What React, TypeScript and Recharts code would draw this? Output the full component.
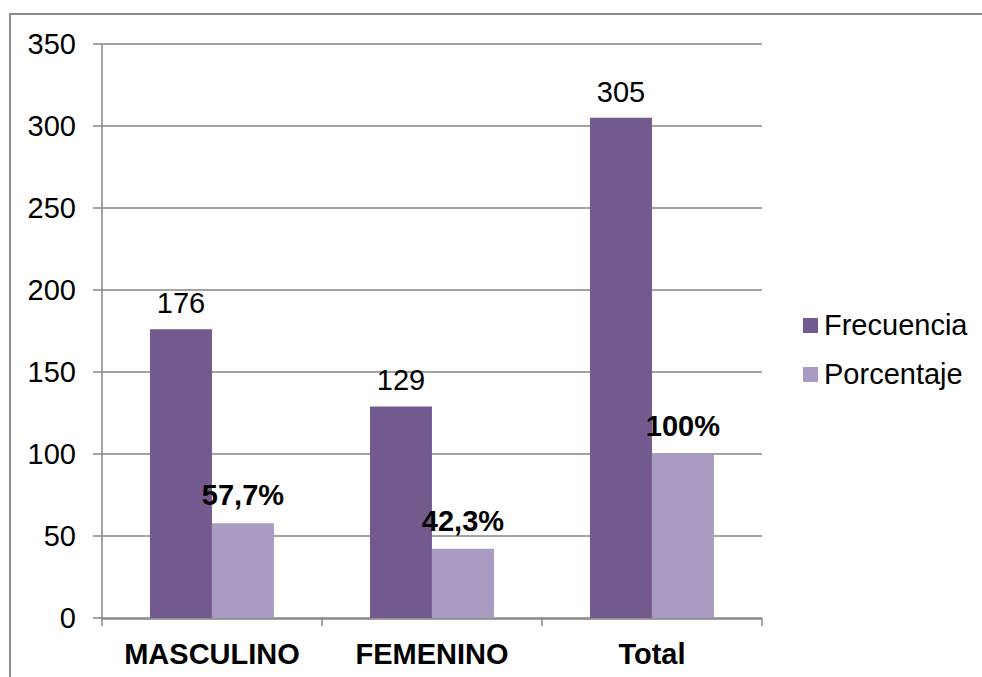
import { Bar, BarChart, CartesianGrid, LabelList, XAxis, YAxis } from 'recharts'

const categories = ['MASCULINO', 'FEMENINO', 'Total']
const frecuencia = [176, 129, 305]
const porcentaje = [57.7, 42.3, 100]
const porcentajeLabels = ['57,7%', '42,3%', '100%']
const yTicks = [0, 50, 100, 150, 200, 250, 300, 350]
const boundaryTicks = [0, 1, 2, 3]

const data = categories.map((name, i) => ({
  name,
  idx: i + 0.5,
  frecuencia: frecuencia[i],
  porcentaje: porcentaje[i],
  porcentajeLabel: porcentajeLabels[i],
}))

const FONT = '"Liberation Sans", Arial, sans-serif'
const FS = 29
const DARK = '#725A8F'
const LIGHT = '#AA9BC2'
const GRID = '#868686'

const legendItems = [
  { label: 'Frecuencia', color: DARK },
  { label: 'Porcentaje', color: LIGHT },
]

function LegendBox() {
  return (
    <div style={{ position: 'absolute', left: 803, top: 301, fontFamily: FONT, fontSize: FS, color: '#000' }}>
      {legendItems.map((it) => (
        <div key={it.label} style={{ display: 'flex', alignItems: 'center', height: 49 }}>
          <span style={{ width: 15, height: 15, background: it.color, marginRight: 6 }} />
          <span>{it.label}</span>
        </div>
      ))}
    </div>
  )
}

export default function App() {
  return (
    <div style={{ position: 'fixed', left: 0, top: 0, width: 982, height: 677, overflow: 'hidden', background: '#fff' }}>
      <div
        style={{
          position: 'absolute',
          left: 9,
          top: 13,
          width: 1100,
          height: 800,
          border: '2px solid #8c8c8c',
        }}
      />
      <div style={{ position: 'absolute', left: 0, top: 0 }}>
        <BarChart
          width={982}
          height={677}
          data={data}
          margin={{ top: 44, right: 220, bottom: 0, left: 0 }}
          barCategoryGap="21.8%"
          barGap={0}
          style={{ fontFamily: FONT }}
        >
          <CartesianGrid vertical={false} stroke={GRID} strokeWidth={1.5} xAxisId="b" />
          <XAxis
            xAxisId="a"
            type="number"
            dataKey="idx"
            domain={[0, 3]}
            ticks={boundaryTicks}
            tickFormatter={() => ''}
            axisLine={false}
            tickLine={{ stroke: GRID, strokeWidth: 1.5 }}
            tickSize={8}
            height={1}
          />
          <XAxis
            xAxisId="b"
            dataKey="name"
            tickLine={false}
            axisLine={{ stroke: GRID, strokeWidth: 1.5 }}
            tick={{ fill: '#000', fontSize: FS, fontWeight: 'bold' }}
            tickMargin={18}
            height={58}
            interval={0}
          />
          <YAxis
            domain={[0, 350]}
            ticks={yTicks}
            width={102}
            axisLine={{ stroke: GRID, strokeWidth: 1.5 }}
            tickLine={{ stroke: GRID, strokeWidth: 1.5 }}
            tickSize={9}
            tickMargin={17}
            tick={{ fill: '#000', fontSize: FS }}
          />
          <Bar xAxisId="b" dataKey="frecuencia" fill={DARK} isAnimationActive={false}>
            <LabelList dataKey="frecuencia" position="top" offset={16} fill="#000" fontSize={FS} />
          </Bar>
          <Bar xAxisId="b" dataKey="porcentaje" fill={LIGHT} isAnimationActive={false}>
            <LabelList
              dataKey="porcentajeLabel"
              position="top"
              offset={18}
              fill="#000"
              fontSize={FS}
              fontWeight="bold"
            />
          </Bar>
        </BarChart>
      </div>
      <LegendBox />
    </div>
  )
}
